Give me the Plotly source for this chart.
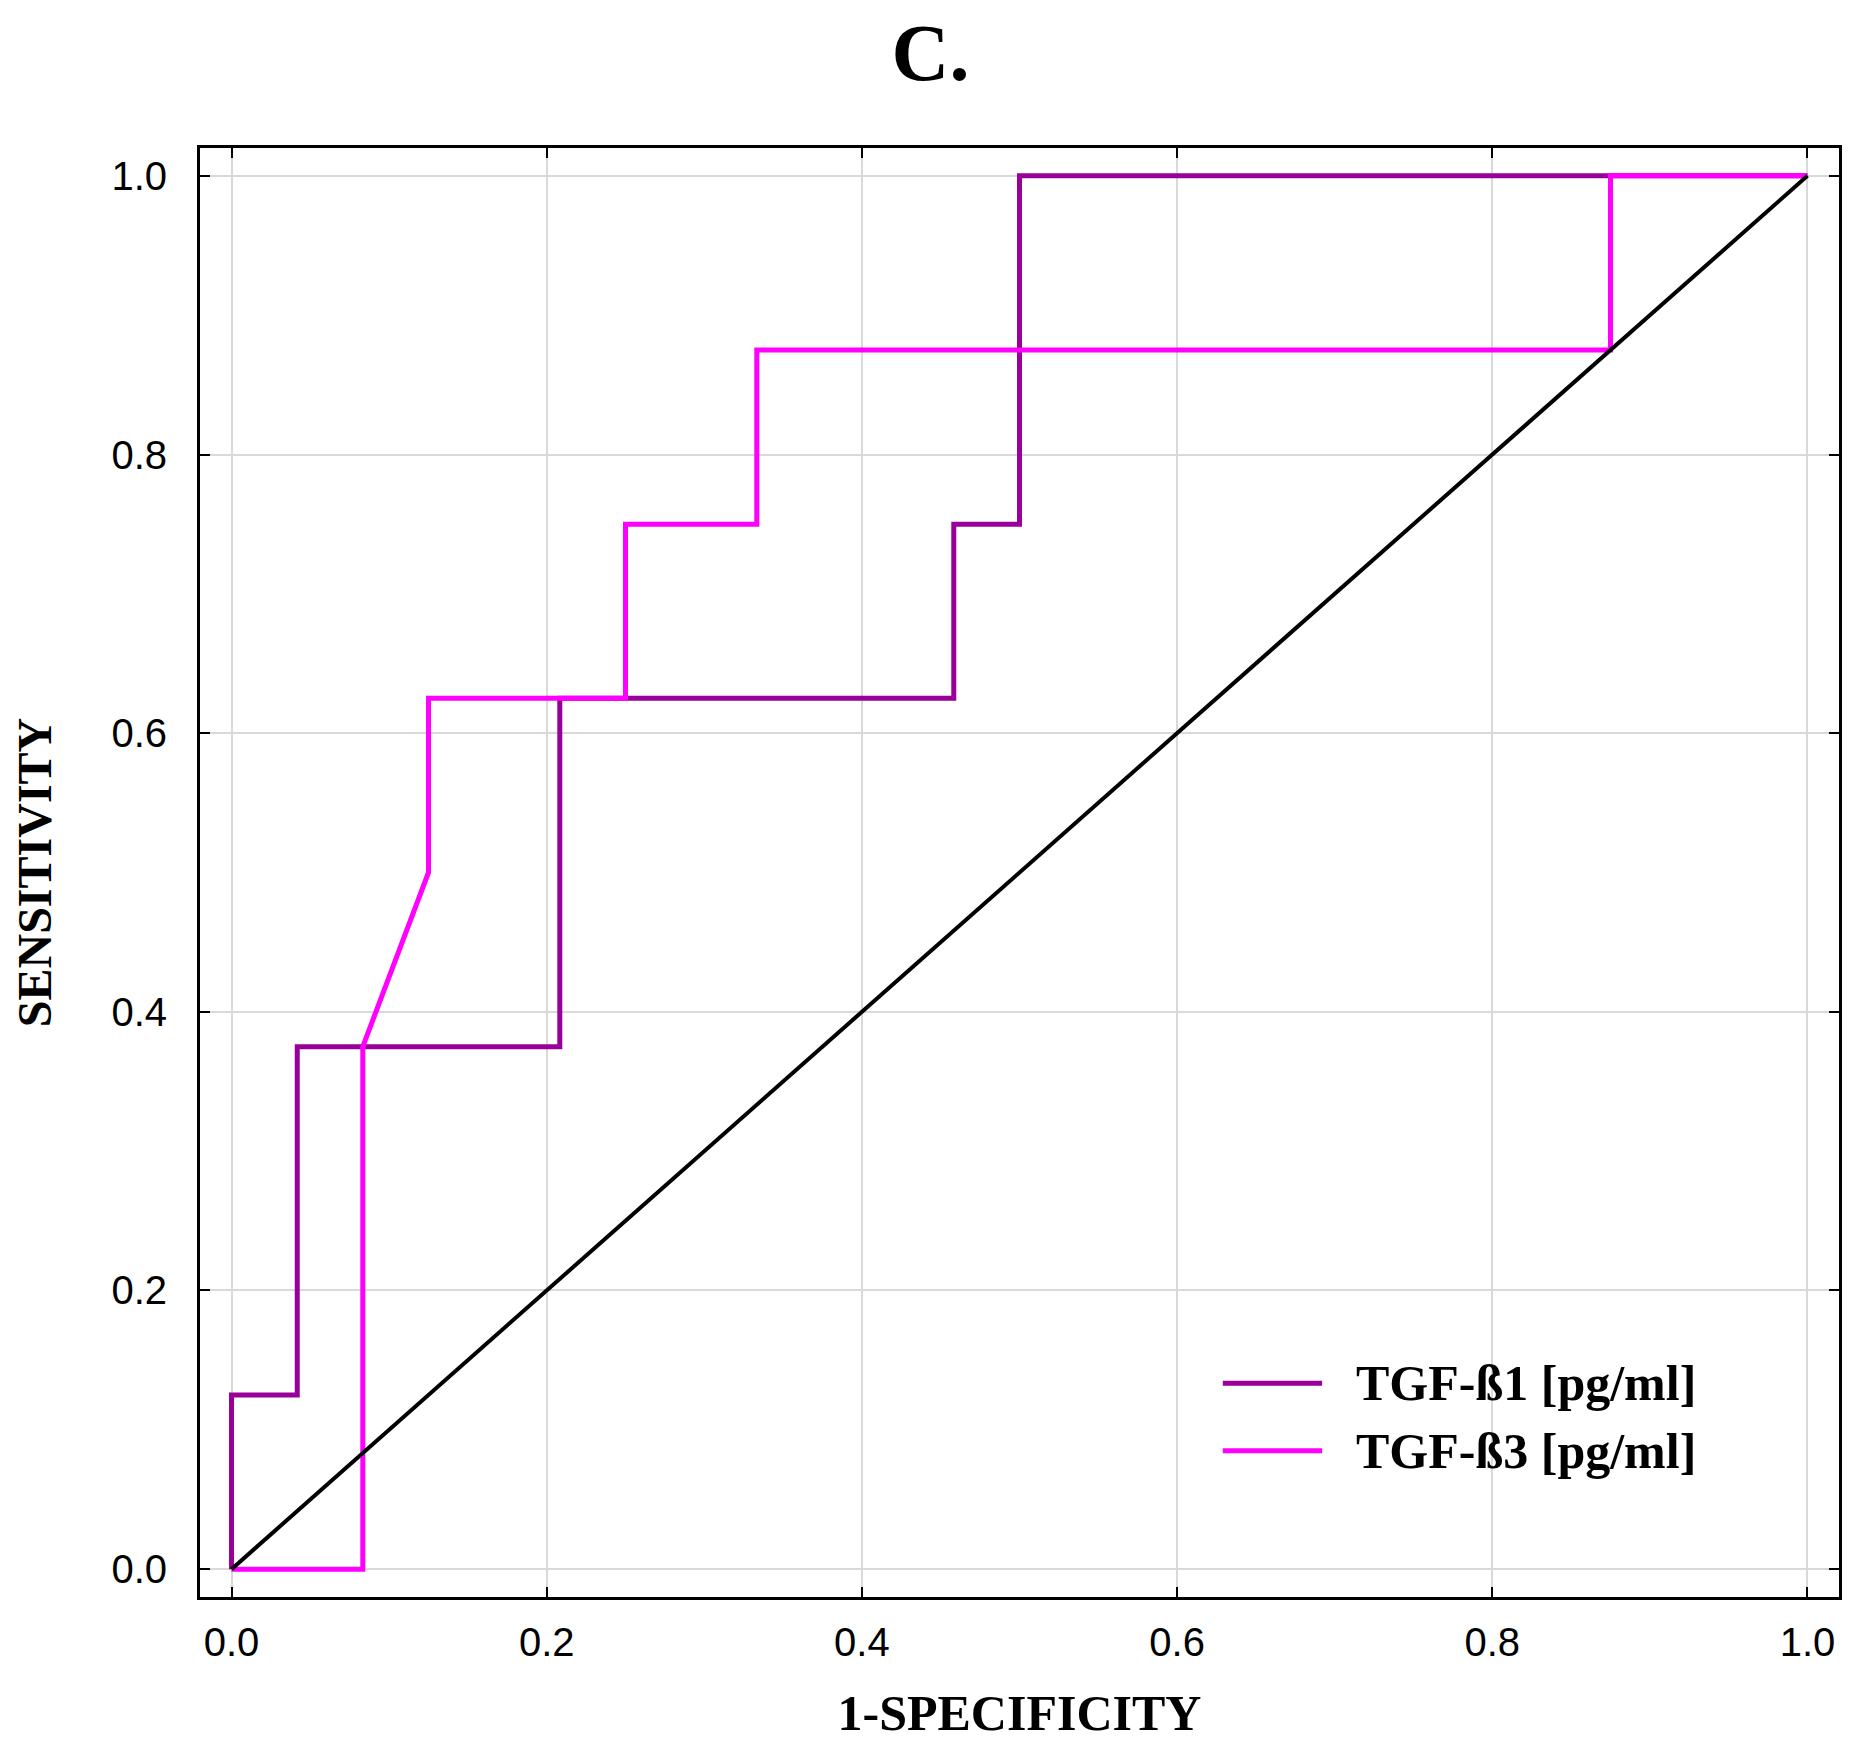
import plotly.graph_objects as go

# ROC curve points (1-specificity, sensitivity)
b1_fpr = [0.0, 0.0, 0.0417, 0.0417, 0.2083, 0.2083, 0.4583, 0.4583, 0.5, 0.5, 1.0]
b1_tpr = [0.0, 0.125, 0.125, 0.375, 0.375, 0.625, 0.625, 0.75, 0.75, 1.0, 1.0]

b3_fpr = [0.0, 0.0833, 0.0833, 0.125, 0.125, 0.25, 0.25, 0.3333, 0.3333, 0.875, 0.875, 1.0]
b3_tpr = [0.0, 0.0, 0.375, 0.5, 0.625, 0.625, 0.75, 0.75, 0.875, 0.875, 1.0, 1.0]

ref_x = [0.0, 1.0]
ref_y = [0.0, 1.0]

tick_vals = [0.0, 0.2, 0.4, 0.6, 0.8, 1.0]
tick_text = ["0.0", "0.2", "0.4", "0.6", "0.8", "1.0"]

names = ["TGF-ß1 [pg/ml]", "TGF-ß3 [pg/ml]"]
colors = ["#990099", "#ff00ff"]

serif = "Liberation Serif, Times New Roman, serif"
sans = "Liberation Sans, Arial, sans-serif"

fig = go.Figure()

fig.add_trace(go.Scatter(x=b1_fpr, y=b1_tpr, mode="lines", name=names[0],
                         line=dict(color=colors[0], width=5), showlegend=False))
fig.add_trace(go.Scatter(x=b3_fpr, y=b3_tpr, mode="lines", name=names[1],
                         line=dict(color=colors[1], width=5), showlegend=False))
fig.add_trace(go.Scatter(x=ref_x, y=ref_y, mode="lines", name="reference",
                         line=dict(color="black", width=4), showlegend=False))

# hand-made legend (long line samples)
leg_y = [0.1335, 0.085]
for i in range(2):
    fig.add_shape(type="line", xref="x", yref="y", x0=0.629, x1=0.692,
                  y0=leg_y[i], y1=leg_y[i], line=dict(color=colors[i], width=5))
    fig.add_annotation(x=0.712, y=leg_y[i], xref="x", yref="y", text="<b>" + names[i] + "</b>",
                       showarrow=False, xanchor="left", yanchor="middle",
                       font=dict(family=serif, size=50, color="black"))

axis_common = dict(
    range=[-0.02, 1.02], tickvals=tick_vals, ticktext=tick_text,
    showgrid=True, gridcolor="#d9d9d9", gridwidth=2, zeroline=False,
    showline=True, linecolor="black", linewidth=3, mirror="ticks",
    ticks="inside", ticklen=10, tickwidth=2, tickcolor="black",
    tickfont=dict(family=sans, size=40, color="black"),
)

fig.update_xaxes(**axis_common, ticklabelstandoff=8,
                 title=dict(text="<b>1-SPECIFICITY</b>", standoff=32,
                            font=dict(family=serif, size=50, color="black")))
fig.update_yaxes(**axis_common, ticklabelstandoff=22,
                 title=dict(text="<b>SENSITIVITY</b>", standoff=50,
                            font=dict(family=serif, size=48, color="black")))

# page body has an 8px margin, so the figure is sized to fit the window
fig.update_layout(
    width=1845, height=1741,
    margin=dict(l=192, r=14, t=140, b=152),
    paper_bgcolor="white", plot_bgcolor="white",
    title=dict(text="<b>C.</b>", x=0.5, xref="container", xanchor="center",
               y=0.975, yanchor="middle",
               font=dict(family=serif, size=80, color="black")),
)

fig.write_html("out.html")
